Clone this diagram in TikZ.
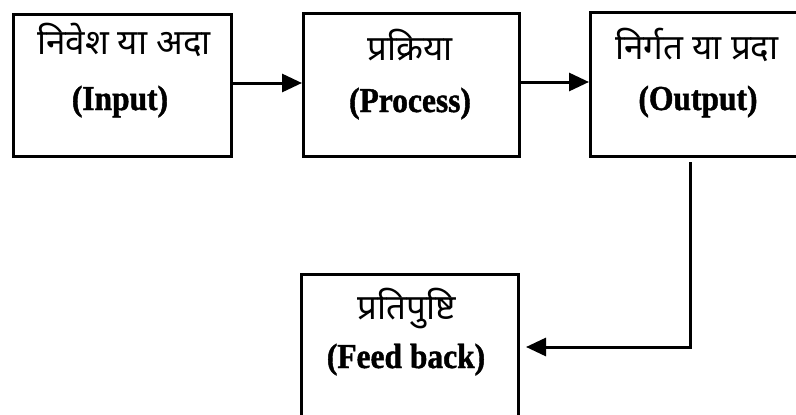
\documentclass[tikz,border=0pt]{standalone}
\usepackage{fontspec}
\setmainfont{Liberation Serif}
\newfontfamily\enfont{Liberation Serif Bold}[FakeStretch=0.9,FakeBold=1.2]
\newfontfamily\hindi[Script=Devanagari]{Noto Sans}
\usetikzlibrary{arrows.meta}
\begin{document}
\begin{tikzpicture}[x=1pt,y=-1pt,
  block/.style={draw,line width=3pt,minimum width=#1,inner sep=0pt},
  hi/.style={font=\hindi\fontsize{35}{38}\selectfont,anchor=base,inner sep=0pt},
  en/.style={font=\enfont\fontsize{35}{38}\selectfont,anchor=base,inner sep=0pt},
  flow/.style={line width=3pt,-{Triangle[length=20pt,width=18pt]}}]
\useasboundingbox (0,0) rectangle (796,415);
\fill[white] (0,0) rectangle (796,415);
\clip (0,0) rectangle (796,415);
% the four boxes
\node[block=218pt,minimum height=142pt,anchor=north west] (inp) at (12,13) {};
\node[block=216pt,minimum height=143pt,anchor=north west] (proc) at (302,12) {};
\node[block=220pt,minimum height=144pt,anchor=north west] (outp) at (589,11) {};
\node[block=217pt,minimum height=150pt,anchor=north west] (fb) at (300,273) {};
% labels
\node[hi] (inpH) at (124,54) {निवेश या अदा};
\node[en] (inpE) at (120,110) {(Input)};
\node[hi] (procH) at (410,60) {प्रक्रिया};
\node[en] (procE) at (410,112) {(Process)};
\node[hi] (outpH) at (697,59) {निर्गत या प्रदा};
\node[en] (outpE) at (698,110) {(Output)};
\node[hi] (fbH) at (407,319) {प्रतिपुष्टि};
\node[en] (fbE) at (406,368) {(Feed back)};
% connectors
\draw[flow] (inp.east |- 0,83) -- (proc.west |- 0,83);
\draw[flow] (proc.east |- 0,82) -- (outp.west |- 0,82);
\coordinate (fbstart) at (690,162);
\coordinate (fbtip) at (526,347);
\draw[flow] (fbstart) |- (fbtip);
\end{tikzpicture}
\end{document}
